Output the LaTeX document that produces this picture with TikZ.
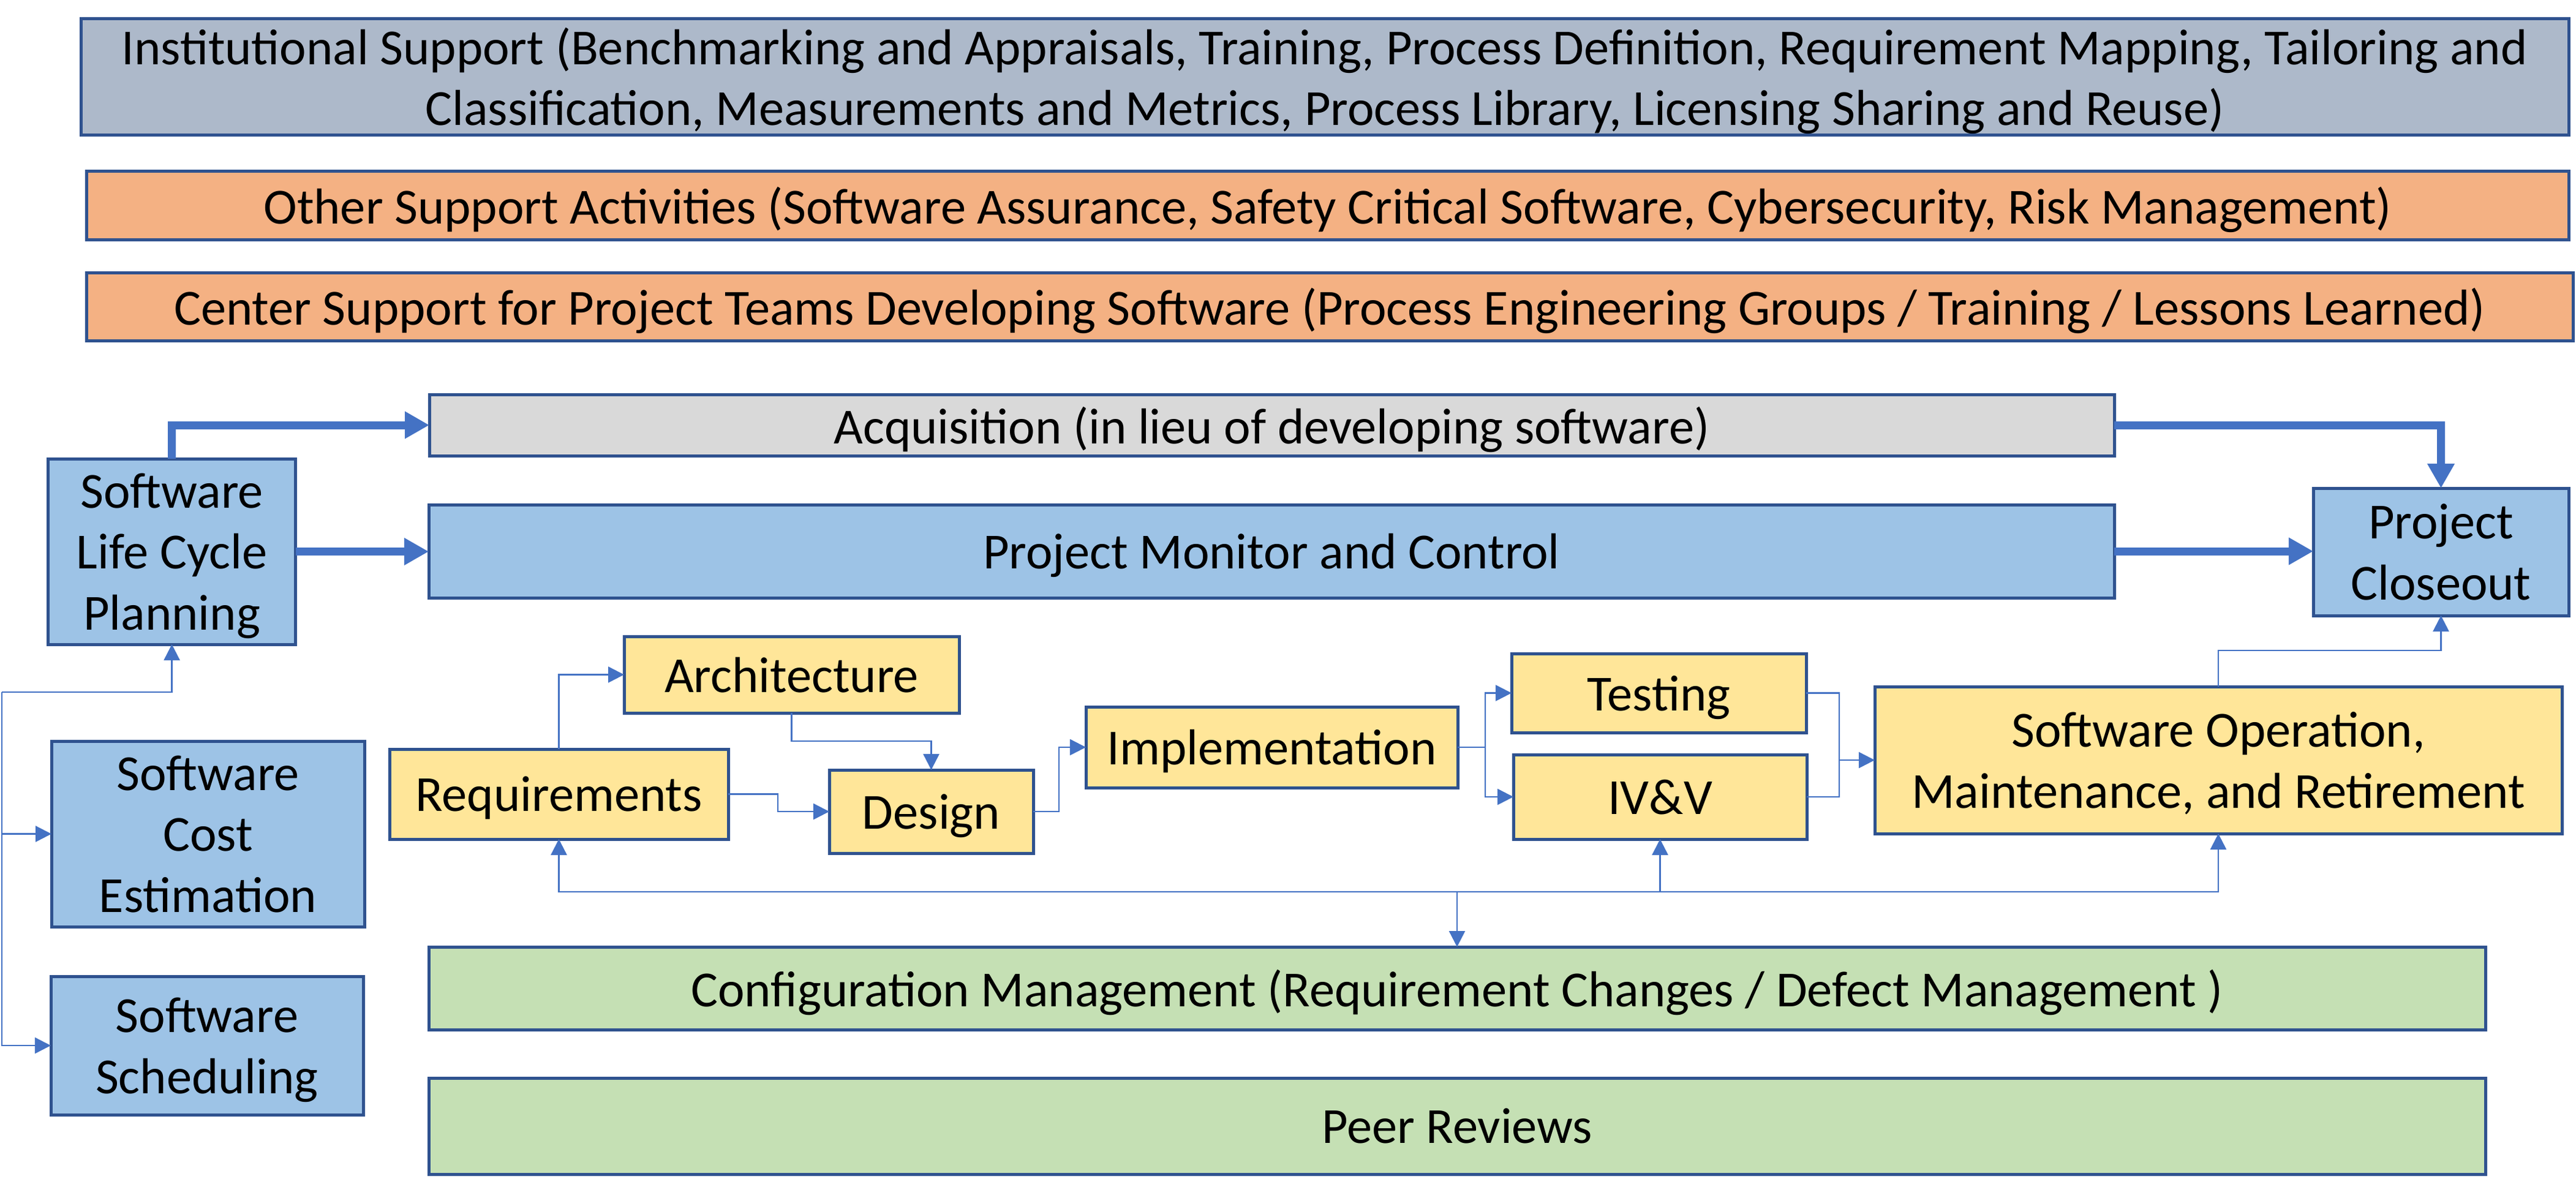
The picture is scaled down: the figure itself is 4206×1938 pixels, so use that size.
\documentclass[tikz,border=0pt]{standalone}
\usepackage{fontspec}
\setmainfont{Carlito}
\usetikzlibrary{arrows.meta,calc}
\definecolor{edgec}{HTML}{2F528F}
\definecolor{arrowc}{HTML}{4472C4}
\definecolor{instc}{HTML}{ADB9CA}
\definecolor{orangec}{HTML}{F4B183}
\definecolor{grayc}{HTML}{D9D9D9}
\definecolor{bluec}{HTML}{9DC3E6}
\definecolor{yellowc}{HTML}{FFE699}
\definecolor{greenc}{HTML}{C5E0B4}
\tikzset{
  box/.style={draw=edgec, line width=5pt, inner sep=0pt, outer sep=0pt, align=center,
    text depth=0pt, font=\fontsize{82.5}{99.5}\selectfont},
  thinarrow/.style={draw=arrowc, line width=2.5pt, -{Triangle[length=26pt,width=26pt]}},
  thinline/.style={draw=arrowc, line width=2.5pt},
  thickarrow/.style={draw=arrowc, line width=13pt, -{Triangle[length=40pt,width=42pt]}},
}
\begin{document}
\begin{tikzpicture}[x=1pt,y=-1pt]
\useasboundingbox[fill=white] (0,0) rectangle (4206,1938);
% top bands
\node[box, fill=instc, minimum width=4062pt, minimum height=190pt] (inst) at (2163,125)
  {Institutional Support (Benchmarking and Appraisals, Training, Process Definition, Requirement Mapping, Tailoring and\\
   Classification, Measurements and Metrics, Process Library, Licensing Sharing and Reuse)};
\node[box, fill=orangec, minimum width=4053pt, minimum height=112pt] (other) at (2167.5,335)
  {Other Support Activities (Software Assurance, Safety Critical Software, Cybersecurity, Risk Management)};
\node[box, fill=orangec, minimum width=4060pt, minimum height=111pt] (center) at (2171,500.5)
  {Center Support for Project Teams Developing Software (Process Engineering Groups / Training / Lessons Learned)};
% main flow
\node[box, fill=grayc, minimum width=2751pt, minimum height=100pt] (acq) at (2076.5,694)
  {Acquisition (in lieu of developing software)};
\node[box, fill=bluec, minimum width=2752pt, minimum height=152pt] (pmc) at (2076,900)
  {Project Monitor and Control};
\node[box, fill=bluec, minimum width=404pt, minimum height=303pt] (slcp) at (280.6,900.5)
  {Software\\Life Cycle\\Planning};
\node[box, fill=bluec, minimum width=417pt, minimum height=208pt] (close) at (3985.5,901)
  {Project\\Closeout};
\node[box, fill=yellowc, minimum width=547pt, minimum height=125pt] (arch) at (1292.5,1101.5)
  {Architecture};
\node[box, fill=yellowc, minimum width=553pt, minimum height=147pt] (req) at (912.5,1296.5)
  {Requirements};
\node[box, fill=yellowc, minimum width=333pt, minimum height=136pt] (design) at (1520.5,1325)
  {Design};
\node[box, fill=yellowc, minimum width=607pt, minimum height=132pt] (impl) at (2076.5,1220)
  {Implementation};
\node[box, fill=yellowc, minimum width=481pt, minimum height=129pt] (test) at (2708.5,1131.5)
  {Testing};
\node[box, fill=yellowc, minimum width=479pt, minimum height=138pt] (ivv) at (2710.5,1301)
  {IV\&V};
\node[box, fill=yellowc, minimum width=1122pt, minimum height=240pt] (somr) at (3622,1241)
  {Software Operation,\\Maintenance, and Retirement};
\node[box, fill=bluec, minimum width=511pt, minimum height=303pt] (cost) at (339.5,1361.5)
  {Software\\Cost\\Estimation};
\node[box, fill=bluec, minimum width=510pt, minimum height=226pt] (sched) at (338,1707)
  {Software\\Scheduling};
\node[box, fill=greenc, minimum width=3358pt, minimum height=135pt] (cm) at (2379,1613.5)
  {Configuration Management (Requirement Changes / Defect Management )};
\node[box, fill=greenc, minimum width=3358pt, minimum height=157pt] (peer) at (2379,1838.5)
  {Peer Reviews};
% thick connectors
\draw[thickarrow] (slcp.north) |- (acq.west);
\draw[thickarrow] (slcp.east) -- (slcp.east -| pmc.west);
\draw[thickarrow] (acq.east) -| (close.north);
\draw[thickarrow] (pmc.east) -- (pmc.east -| close.west);
% left tree
\coordinate (lt) at (3,1130);
\draw[thinarrow] (lt) -| (slcp.south);
\draw[thinarrow] (lt) |- (cost.west);
\draw[thinarrow] (lt) |- (sched.west);
% development flow
\draw[thinarrow] (req.north) |- (arch.west);
\draw[thinarrow] (arch.south) -- ++(0,46) -| (design.north);
\draw[thinarrow] (req.east) -- ++(81,0) |- (design.west);
\draw[thinarrow] (design.east) -- ++(42,0) |- (impl.west);
\coordinate (j1) at ($(impl.east)+(45,0)$);
\draw[thinline] (impl.east) -- (j1);
\draw[thinarrow] (j1) |- (test.west);
\draw[thinarrow] (j1) |- (ivv.west);
\coordinate (j2) at ($(somr.west)+(-58,0)$);
\draw[thinline] (test.east) -| (j2);
\draw[thinline] (ivv.east) -| (j2);
\draw[thinarrow] (j2) -- (somr.west);
\draw[thinarrow] (somr.north) -- ++(0,-59) -| (close.south);
% bus to configuration management
\coordinate (bus) at (2379,1456);
\draw[thinarrow] (bus) -| (req.south);
\draw[thinarrow] (bus) -| (ivv.south);
\draw[thinarrow] (bus) -| (somr.south);
\draw[thinarrow] (bus) -- (cm.north);
\end{tikzpicture}
\end{document}
